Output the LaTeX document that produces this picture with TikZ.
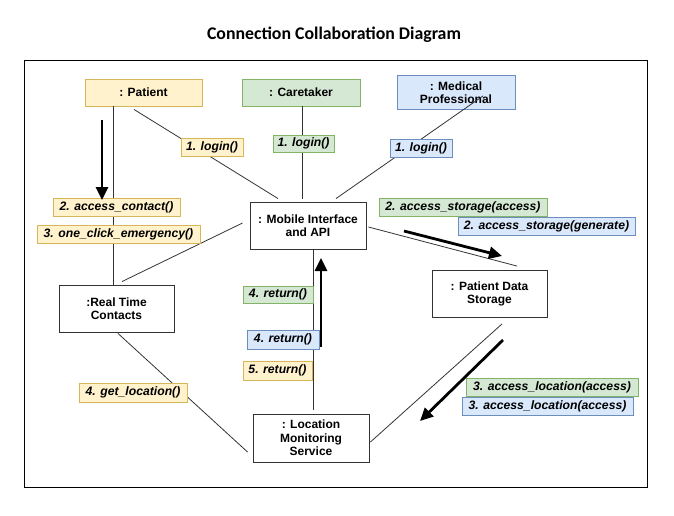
\documentclass[tikz,border=0pt]{standalone}
\usepackage{fontspec}
\setmainfont{Liberation Sans}
\newfontfamily\titlefont{Carlito}
\usetikzlibrary{arrows.meta}
\definecolor{yfill}{HTML}{FFF2CC}\definecolor{ydraw}{HTML}{D6B656}
\definecolor{gfill}{HTML}{D5E8D4}\definecolor{gdraw}{HTML}{82B366}
\definecolor{bfill}{HTML}{DAE8FC}\definecolor{bdraw}{HTML}{6C8EBF}
\definecolor{linec}{HTML}{333333}
\tikzset{
  obj/.style={draw=black!80, line width=0.9pt, fill=white, align=center, font=\fontsize{12}{13.5}\selectfont\bfseries, inner sep=1pt},
  actor/.style={obj, line width=0.9pt},
  msg/.style={line width=0.7pt, inner sep=1pt, font=\fontsize{12.2}{13}\selectfont\bfseries\itshape, minimum height=18pt},
  ymsg/.style={msg, fill=yfill, draw=ydraw},
  gmsg/.style={msg, fill=gfill, draw=gdraw},
  bmsg/.style={msg, fill=bfill, draw=bdraw},
  link/.style={draw=linec, line width=0.8pt},
  flow/.style={draw=black, line width=2.8pt, -{Triangle[length=13pt,width=12pt]}}
}
\begin{document}
\begin{tikzpicture}[x=1pt,y=-1pt]
\useasboundingbox (0,0) rectangle (674,515);
\node[font=\titlefont\fontsize{17.8}{19}\selectfont\bfseries] (title) at (334,35) {Connection Collaboration Diagram};
\draw[line width=0.9pt] (24,60) rectangle (647,487);

% objects
\node[actor, fill=yfill, draw=ydraw, minimum width=117pt, minimum height=27pt] (patient) at (143.5,92.5) {: Patient};
\node[actor, fill=gfill, draw=gdraw, minimum width=118pt, minimum height=27pt] (caretaker) at (301,92.5) {: Caretaker};
\node[actor, fill=bfill, draw=bdraw, minimum width=118pt, minimum height=34pt, font=\fontsize{12}{13}\selectfont\bfseries] (medical) at (456,92.5) {: Medical\\Professional};
\node[obj, minimum width=116pt, minimum height=47pt] (mobile) at (308,225.5) {: Mobile Interface\\and API};
\node[obj, minimum width=115pt, minimum height=47pt] (rtc) at (116.5,308.5) {:Real Time\\Contacts};
\node[obj, minimum width=115pt, minimum height=47pt] (pds) at (489.5,294) {: Patient Data\\Storage};
\node[obj, minimum width=116pt, minimum height=48pt] (loc) at (311,438) {: Location\\Monitoring\\Service};

% links
\draw[link] ([xshift=-30.5pt]patient.south) -- ([xshift=-3.5pt]rtc.north);
\draw[link] ([xshift=-9.5pt,yshift=-3pt]patient.south) -- ([xshift=-30pt,yshift=3pt]mobile.north);
\draw[link] ([xshift=1pt]caretaker.south) -- ([xshift=-6pt,yshift=3pt]mobile.north);
\draw[link] ([xshift=27pt,yshift=14pt]medical.south) -- ([xshift=28pt,yshift=3pt]mobile.north);
\draw[link] ([xshift=-7pt,yshift=2.5pt]mobile.west) -- ([xshift=5.5pt,yshift=3pt]rtc.north);
\draw[link] ([xshift=2pt,yshift=-1.5pt]mobile.east) -- ([xshift=27.5pt,yshift=4pt]pds.north);
\draw[link] ([xshift=5pt]mobile.south) -- ([xshift=2pt,yshift=4pt]loc.north);
\draw[link] ([xshift=1.5pt,yshift=-1pt]rtc.south) -- ([xshift=-5pt,yshift=-14pt]loc.west);
\draw[link] ([xshift=12.5pt,yshift=-6pt]pds.south) -- ([xshift=1pt,yshift=-4pt]loc.east);

% message labels
\node[ymsg, minimum width=62pt] (y1) at (212,147.5) {1. login()};
\node[gmsg, minimum width=61pt, minimum height=17pt] (g1) at (303.5,143.5) {1. login()};
\node[bmsg, minimum width=62pt] (b1) at (421,148) {1. login()};
\node[ymsg, minimum width=127pt] (y2) at (116.5,207) {2. access\_contact()};
\node[ymsg, minimum width=163pt] (y3) at (118.5,234) {3. one\_click\_emergency()};
\node[gmsg, minimum width=168pt] (g2) at (463,207) {2. access\_storage(access)};
\node[bmsg, minimum width=177pt] (b2) at (546.5,226) {2. access\_storage(generate)};
\node[gmsg, minimum width=70pt, minimum height=17pt] (g4) at (278,294.5) {4. return()};
\node[bmsg, minimum width=72pt, minimum height=19pt] (b4) at (283,339.5) {4. return()};
\node[ymsg, minimum width=69pt, minimum height=19pt] (y5) at (277.5,370.5) {5. return()};
\node[ymsg, minimum width=108pt, minimum height=19pt] (y4) at (133,392.5) {4. get\_location()};
\node[gmsg, minimum width=172pt] (g3) at (552,387) {3. access\_location(access)};
\node[bmsg, minimum width=171pt] (b3) at (547.5,406) {3. access\_location(access)};

% flow arrows
\coordinate (fa1) at (102,120); \coordinate (fa2) at (102,200);
\coordinate (fb1) at (404,231); \coordinate (fb2) at (502,256);
\coordinate (fc1) at (321,347); \coordinate (fc2) at (321,258);
\coordinate (fd1) at (503,340); \coordinate (fd2) at (420,421);
\draw[flow] (fa1) -- (fa2);
\draw[flow] (fb1) -- (fb2);
\draw[flow] (fc1) -- (fc2);
\draw[flow] (fd1) -- (fd2);
\end{tikzpicture}
\end{document}
